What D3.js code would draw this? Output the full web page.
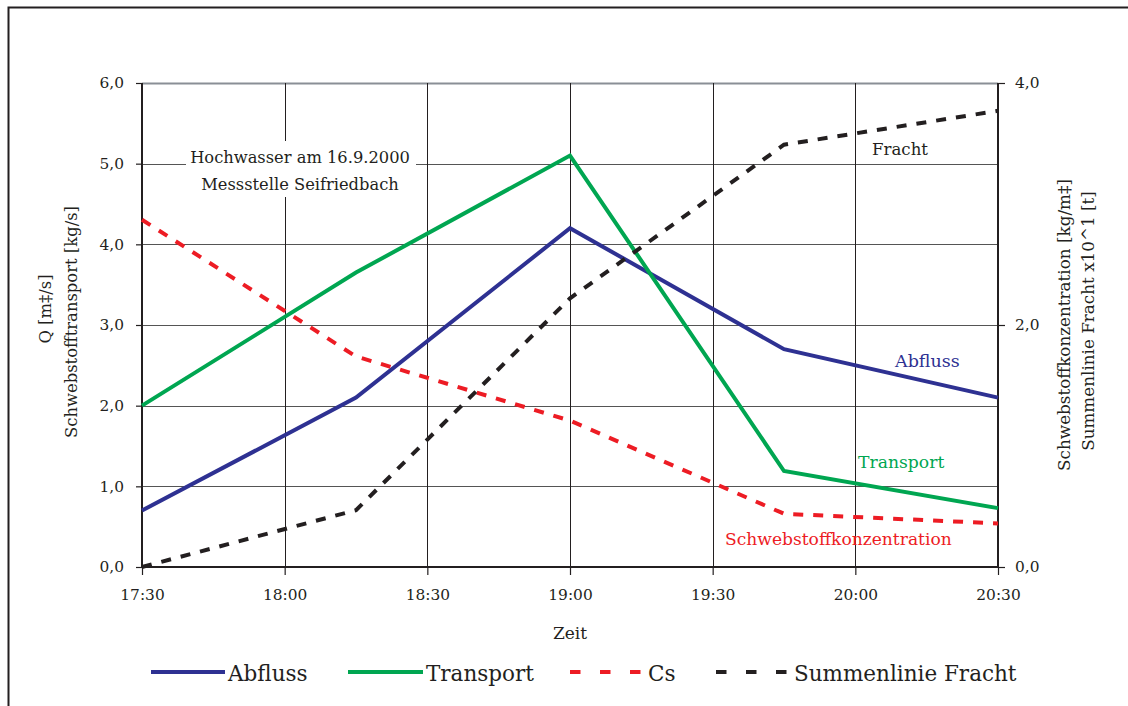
<!DOCTYPE html>
<html><head><meta charset="utf-8">
<script src="https://cdn.jsdelivr.net/npm/d3@7"></script>
<style>body{margin:0;background:#fff}svg{display:block}text{font-family:"DejaVu Serif",serif;fill:#231f20}</style>
</head><body><svg id="c" width="1128" height="706"></svg>
<script>
const times = ["17:30","18:15","19:00","19:45","20:30"];
const tickLabels = ["17:30","18:00","18:30","19:00","19:30","20:00","20:30"];
const abfluss = [0.7, 2.1, 4.2, 2.7, 2.1];
const transport = [2.0, 3.65, 5.1, 1.19, 0.73];
const cs = [2.87, 1.74, 1.21, 0.44, 0.36];
const fracht = [0.0, 0.47, 2.22, 3.49, 3.77];
const leftTicks = [0,1,2,3,4,5,6];
const rightTicks = [0,2,4];

const svg = d3.select("#c");
const L = 142, R = 998, T = 83, B = 567;
const toMin = s => { const [h,m] = s.split(":").map(Number); return h*60+m; };
const x = d3.scaleLinear().domain([toMin("17:30"), toMin("20:30")]).range([L, R]);
const yL = d3.scaleLinear().domain([0,6]).range([B, T]);
const yR = d3.scaleLinear().domain([0,4]).range([B, T]);
const fmt = v => d3.format(".1f")(v).replace(".", ",");

// outer frame
svg.append("path").attr("d","M8.5,706 V7.5 H1128").attr("fill","none").attr("stroke","#231f20").attr("stroke-width",2);

// horizontal gridlines
svg.append("g").selectAll("line").data(leftTicks.filter(d=>d>0)).join("line")
  .attr("x1",L).attr("x2",R).attr("y1",d=>Math.round(yL(d))+0.5).attr("y2",d=>Math.round(yL(d))+0.5)
  .attr("stroke",d=>d===6?"#8a8f96":"#555").attr("stroke-width",d=>d===6?2:1.2);
// vertical gridlines
svg.append("g").selectAll("line").data(tickLabels.slice(1,-1)).join("line")
  .attr("x1",d=>Math.round(x(toMin(d)))+0.5).attr("x2",d=>Math.round(x(toMin(d)))+0.5)
  .attr("y1",T).attr("y2",B).attr("stroke","#231f20").attr("stroke-width",1);

// annotation box
svg.append("rect").attr("x",186).attr("y",141).attr("width",230).attr("height",56).attr("fill","#fff");
svg.append("text").attr("x",300).attr("y",163).attr("text-anchor","middle").attr("font-size",16.3).text("Hochwasser am 16.9.2000");
svg.append("text").attr("x",300).attr("y",190).attr("text-anchor","middle").attr("font-size",16.3).text("Messstelle Seifriedbach");

// axes
const axL = d3.axisLeft(yL).tickValues(leftTicks).tickFormat(fmt).tickSize(6).tickPadding(12);
const gL = svg.append("g").attr("transform",`translate(${L},0)`).call(axL);
const axR = d3.axisRight(yR).tickValues(rightTicks).tickFormat(fmt).tickSize(7).tickPadding(10);
const gR = svg.append("g").attr("transform",`translate(${R},0)`).call(axR);
const axB = d3.axisBottom(x).tickValues(tickLabels.map(toMin)).tickFormat((d,i)=>tickLabels[i]).tickSize(8).tickPadding(14);
const gB = svg.append("g").attr("transform",`translate(0,${B})`).call(axB);
[gL,gR,gB].forEach(g=>{
  g.select(".domain").attr("stroke","#231f20").attr("stroke-width",2);
  g.selectAll(".tick line").attr("stroke","#231f20").attr("stroke-width",1.2);
  g.selectAll(".tick text").attr("font-size",15.4).attr("font-family","DejaVu Serif").attr("fill","#231f20");
});
gL.select(".domain").attr("d",`M-0,${T}H0V${B}H-0`);
gR.select(".domain").attr("d",`M0,${T}H0V${B}H0`);
gB.select(".domain").attr("d",`M${L},0H${R}`);

// axis titles
svg.append("text").attr("transform","translate(51,309) rotate(-90)").attr("text-anchor","middle").attr("font-size",16.4).text("Q [m‡/s]");
svg.append("text").attr("transform","translate(77,322) rotate(-90)").attr("text-anchor","middle").attr("font-size",16.4).text("Schwebstofftransport [kg/s]");
svg.append("text").attr("transform","translate(1070,325) rotate(-90)").attr("text-anchor","middle").attr("font-size",16.8).text("Schwebstoffkonzentration [kg/m‡]");
svg.append("text").attr("transform","translate(1094,321) rotate(-90)").attr("text-anchor","middle").attr("font-size",16.8).text("Summenlinie Fracht x10^1 [t]");
svg.append("text").attr("x",570).attr("y",639).attr("text-anchor","middle").attr("font-size",17).text("Zeit");

// series
const series = [
  {name:"Abfluss", vals:abfluss, y:yL, color:"#2e3192", dash:null},
  {name:"Transport", vals:transport, y:yL, color:"#00a651", dash:null},
  {name:"Cs", vals:cs, y:yR, color:"#ed1c24", dash:"10,10"},
  {name:"Summenlinie Fracht", vals:fracht, y:yR, color:"#231f20", dash:"10,10"}
];
series.forEach(s=>{
  const line = d3.line().x((d,i)=>x(toMin(times[i]))).y(d=>s.y(d));
  svg.append("path").datum(s.vals).attr("d",line).attr("fill","none")
    .attr("stroke",s.color).attr("stroke-width",4).attr("stroke-dasharray",s.dash);
});

// inline labels
svg.append("text").attr("x",895).attr("y",367).attr("font-size",17.5).style("fill","#2e3192").text("Abfluss");
svg.append("text").attr("x",858).attr("y",468).attr("font-size",17.2).style("fill","#00a651").text("Transport");
svg.append("text").attr("x",872).attr("y",155).attr("font-size",16.6).text("Fracht");
svg.append("text").attr("x",725).attr("y",545).attr("font-size",17.1).style("fill","#ed1c24").text("Schwebstoffkonzentration");

// legend
const leg = [
  {x1:151,x2:225,tx:228},{x1:348,x2:423,tx:426},{x1:570,x2:641,tx:648},{x1:716,x2:787,tx:794}
];
series.forEach((s,i)=>{
  const p = leg[i];
  svg.append("line").attr("x1",p.x1).attr("x2",p.x2).attr("y1",672).attr("y2",672)
    .attr("stroke",s.color).attr("stroke-width",4).attr("stroke-dasharray",s.dash?"10.5,19.5":null);
  svg.append("text").attr("x",p.tx).attr("y",681).attr("font-size",21.5).text(s.name);
});
</script></body></html>
